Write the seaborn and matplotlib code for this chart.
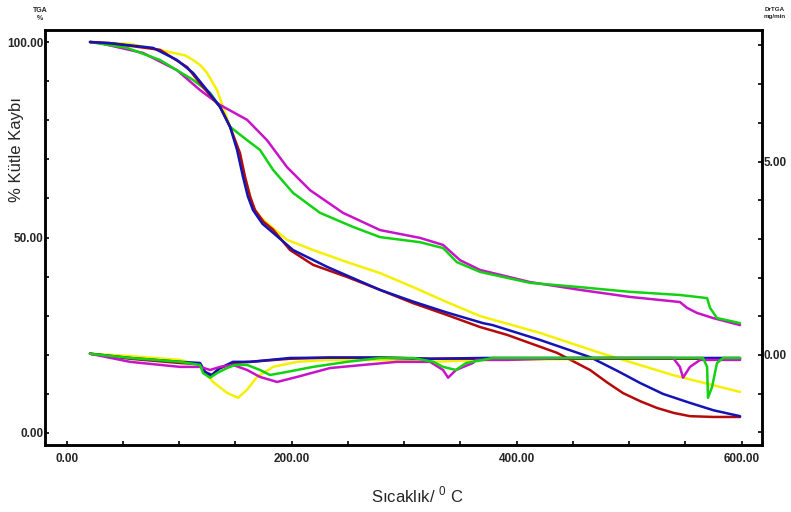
import matplotlib
matplotlib.use("Agg")
import matplotlib.pyplot as plt
from matplotlib.ticker import MultipleLocator, FixedLocator, FuncFormatter
import seaborn as sns

sns.set_style("white")
plt.rcParams["font.family"] = ["Liberation Sans", "DejaVu Sans"]
plt.rcParams["mathtext.fontset"] = "custom"
plt.rcParams["mathtext.rm"] = "Liberation Sans"

# ---- TGA curves (% mass loss vs temperature, left axis) ----
blue_T = [20.7, 38.5, 76.7, 98, 112.3, 124.7, 136.3, 145.2, 151.4, 156.7, 161, 165.6,
          174, 183.4, 201.2, 231.4, 254.5, 278.5, 308, 337, 370, 378.5, 420.7, 465.2,
          490, 509.6, 530, 554, 575, 598.5]
blue_m = [100, 99.7, 98.5, 95.4, 92.1, 87.7, 83.4, 78.3, 72.4, 65.5, 60.5, 57,
          53.5, 51.2, 46.8, 42.5, 39.6, 36.6, 33.6, 30.9, 28.1, 27.6, 23.8, 19.4,
          15.8, 12.8, 10.0, 7.7, 5.8, 4.3]

red_T = [20.7, 38.5, 82.9, 107, 121.2, 136.3, 145.2, 154, 158.5, 163, 167.4, 175,
         183.4, 198.5, 219, 249.2, 278.5, 308, 337.8, 367.4, 391.4, 435.8, 465.2,
         480, 494.5, 510, 524.7, 540, 554, 575, 598.5]
red_m = [100, 99.7, 98, 93.6, 88.5, 83.4, 78.3, 71.6, 65.5, 60.5, 57, 54,
         52, 46.8, 43, 39.9, 36.6, 33.2, 30.2, 27.1, 25.1, 20.5, 16.1,
         13.0, 10.2, 8.1, 6.4, 5.1, 4.3, 4.1, 4.1]

yellow_T = [20.7, 56.3, 91.8, 105, 112.3, 119, 124.7, 133.6, 139, 145.2, 151.4, 156.7,
            165.6, 172, 178, 187, 195.8, 219, 249.2, 278.5, 308, 337.8, 367.4, 420.7,
            474, 539, 598.5]
yellow_m = [100, 99.5, 97.4, 96.6, 95.4, 94.0, 92.1, 87.7, 83.4, 78.3, 73.1, 67.3,
            57.8, 55.3, 53.7, 51.5, 49.4, 46.8, 43.7, 40.9, 37.3, 33.5, 29.9, 25.6,
            20.5, 14.8, 10.5]

green_T = [20.7, 53.6, 82.9, 112.3, 127.4, 136.3, 145.2, 160.3, 171.8, 183.4, 201.2, 225.2,
           254.5, 278.5, 314, 334.5, 346.8, 367.4, 411.8, 456.3, 500.7, 545, 569.2, 571.8,
           578, 598.5]
green_m = [100, 98.5, 95.4, 90.3, 87, 83.4, 78.3, 74.9, 72.4, 67.3, 61.4, 56.3,
           52.7, 50.1, 48.8, 47.3, 43.7, 41.2, 38.4, 37.3, 36.1, 35.3, 34.5, 32,
           29.4, 28.1]

magenta_T = [20.7, 29.6, 67.8, 98, 118.5, 136.3, 160.3, 178, 195.8, 216.3, 245.6, 278.5,
             314, 334.5, 349.6, 367.4, 411.8, 456.3, 500.7, 545, 551.4, 560.3, 574.5, 598.5]
magenta_m = [100, 99.7, 97.2, 92.8, 87.7, 83.9, 80.1, 74.9, 68, 62.1, 56.3, 51.9,
             49.9, 48.1, 44.2, 41.7, 38.6, 36.6, 34.8, 33.5, 32, 30.7, 29.4, 27.6]

# ---- DrTGA curves (mg/min, right axis) ----
yellow_dT = [20.7, 56.3, 100.7, 118.5, 130, 142.5, 152.3, 160.3, 169.2, 183.4, 204.7,
             234, 278.5, 323, 370, 474, 598.5]
yellow_d = [0.03, -0.03, -0.13, -0.26, -0.70, -0.98, -1.11, -0.9, -0.57, -0.31, -0.18,
            -0.13, -0.13, -0.18, -0.13, -0.1, -0.1]

green_dT = [20.7, 56.3, 100.7, 118.5, 121.2, 127.4, 133.6, 142.5, 149.6, 160.3, 171.8,
            180.7, 195.8, 219, 249.2, 278.5, 308, 326, 334.5, 346, 355, 370, 378.5, 539,
            565.6, 569.2, 570, 573.6, 578, 583.4, 598.5]
green_d = [0.03, -0.08, -0.18, -0.26, -0.47, -0.59, -0.47, -0.34, -0.26, -0.26, -0.39,
           -0.52, -0.44, -0.31, -0.18, -0.08, -0.08, -0.18, -0.31, -0.39, -0.21, -0.13,
           -0.08, -0.08, -0.08, -0.31, -1.11, -0.83, -0.21, -0.08, -0.08]

magenta_dT = [20.7, 56.3, 100.7, 118.5, 127.4, 136.3, 147.8, 160.3, 171.8, 187, 204.7,
              234, 263.4, 293.6, 323, 334.5, 339, 346, 361, 363.8, 391.4, 450, 539, 545,
              547.8, 554, 563, 598.5]
magenta_d = [0.03, -0.18, -0.31, -0.31, -0.39, -0.31, -0.26, -0.39, -0.57, -0.70, -0.57,
             -0.34, -0.26, -0.18, -0.18, -0.39, -0.59, -0.39, -0.21, -0.13, -0.13, -0.08,
             -0.08, -0.31, -0.59, -0.31, -0.13, -0.13]

blue_dT = [20.7, 56.3, 100.7, 118.5, 123, 129, 136.3, 147.8, 163, 198.5, 234, 278.5,
           323, 370, 474, 598.5]
blue_d = [0.03, -0.08, -0.18, -0.21, -0.44, -0.52, -0.34, -0.18, -0.18, -0.08, -0.07,
          -0.07, -0.10, -0.08, -0.08, -0.08]

red_dT = [20.7, 56.3, 100.7, 118.5, 122, 128, 135, 147.8, 163, 198.5, 234, 278.5,
          323, 370, 474, 598.5]
red_d = [0.03, -0.10, -0.21, -0.24, -0.47, -0.55, -0.36, -0.21, -0.18, -0.10, -0.07,
         -0.07, -0.10, -0.10, -0.10, -0.10]

x_major = [0, 200, 400, 600]
left_major = [0, 50, 100]
right_major = [0, 5]

C_BLUE = "#1414b4"
C_RED = "#b40a0a"
C_YELLOW = "#f5f000"
C_GREEN = "#12d212"
C_MAGENTA = "#c814c8"

fig = plt.figure(figsize=(7.91, 5.12), dpi=100)
ax = fig.add_axes([45 / 791, 1 - 445 / 512, (762 - 45) / 791, (445 - 30) / 512])
ax2 = ax.twinx()

lw = 1.8
for T, d, c in [(yellow_dT, yellow_d, C_YELLOW), (red_dT, red_d, C_RED),
                (blue_dT, blue_d, C_BLUE), (magenta_dT, magenta_d, C_MAGENTA),
                (green_dT, green_d, C_GREEN)]:
    sns.lineplot(x=T, y=d, ax=ax2, color=c, linewidth=lw, sort=False, legend=False)

for T, m, c in [(yellow_T, yellow_m, C_YELLOW), (magenta_T, magenta_m, C_MAGENTA),
                (green_T, green_m, C_GREEN), (red_T, red_m, C_RED),
                (blue_T, blue_m, C_BLUE)]:
    sns.lineplot(x=T, y=m, ax=ax, color=c, linewidth=lw, sort=False, legend=False)

ax.set_xlim(-19.3, 618)
ax.set_ylim(-3.07, 103.07)
ax2.set_ylim(-2.33, 8.40)

fmt = FuncFormatter(lambda v, p: f"{v:.2f}")
ax.xaxis.set_major_locator(FixedLocator(x_major))
ax.xaxis.set_minor_locator(MultipleLocator(50))
ax.yaxis.set_major_locator(FixedLocator(left_major))
ax.yaxis.set_minor_locator(MultipleLocator(10))
ax2.yaxis.set_major_locator(FixedLocator(right_major))
ax2.yaxis.set_minor_locator(MultipleLocator(1))
ax.xaxis.set_major_formatter(fmt)
ax.yaxis.set_major_formatter(fmt)
ax2.yaxis.set_major_formatter(fmt)

for a in (ax, ax2):
    a.tick_params(which="both", direction="in", length=3, width=1.2, color="black",
                  labelsize=8.5, pad=2)
    for lab in a.get_xticklabels() + a.get_yticklabels():
        lab.set_fontweight("bold")
    for s in a.spines.values():
        s.set_color("black")
        s.set_linewidth(1.8)
ax.tick_params(axis="x", pad=6)
ax.tick_params(axis="y", pad=1)
ax2.tick_params(axis="y", pad=1)
ax2.tick_params(axis="x", which="both", bottom=False, top=False)
ax.tick_params(axis="y", which="both", left=True, right=False)
ax.tick_params(axis="x", which="both", bottom=True, top=False)
ax2.tick_params(axis="y", which="both", right=True, left=False)
ax.set_xlabel("")
ax.set_ylabel("")
ax2.set_ylabel("")

fig.text(17 / 791, 1 - 150 / 512, "% Kütle Kaybı", rotation=90, ha="center",
         va="center", fontsize=12)
fig.text(417 / 791, 1 - 495 / 512, r"Sıcaklık/ $^{0}$ C", ha="center", va="center",
         fontsize=12)
fig.text(40 / 791, 1 - 15 / 512, "TGA\n%", ha="center", va="center", fontsize=5,
         fontweight="bold", linespacing=1.2)
fig.text(775 / 791, 1 - 13 / 512, "DrTGA\nmg/min", ha="center", va="center",
         fontsize=4.5, fontweight="bold", linespacing=1.3)

fig.savefig("out.png", dpi=100, facecolor="white")
